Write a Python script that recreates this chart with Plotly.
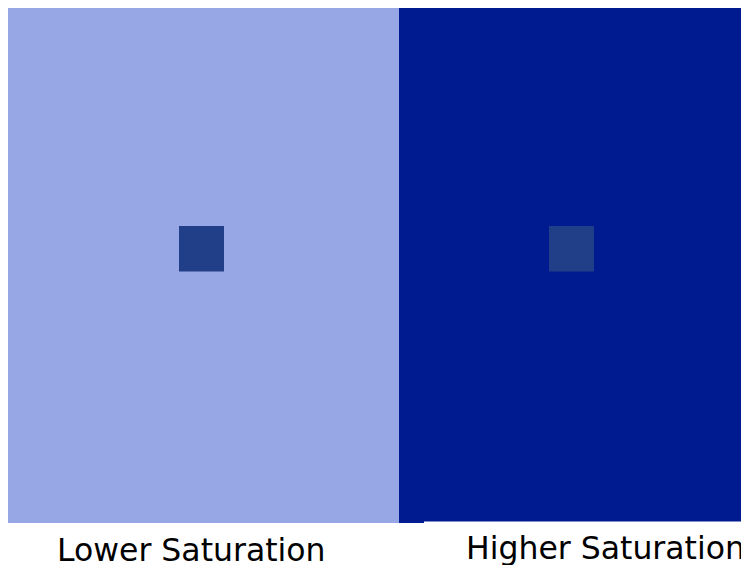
import plotly.graph_objects as go

# Panels (in image units, origin top-left)
panel_names = ["Lower Saturation", "Higher Saturation"]
panel_x0 = [8, 399]
panel_x1 = [399, 744]
panel_y0 = [5, 5]
panel_y1 = [523, 521.5]
panel_colors = ["#97A7E5", "#001A8F"]

# Centre squares (same colour on both panels)
square_x0 = [179, 549]
square_x1 = [224, 594]
square_y0 = [226, 226]
square_y1 = [271.5, 271.5]
square_color = "#213F88"

# Labels
label_x = [191, 605.5]
label_y = [550, 547.5]

W, H = 749, 565
OFF = 8  # page body margin

fig = go.Figure()
shapes = []
for i in range(len(panel_names)):
    shapes.append(dict(type="rect", xref="x", yref="y",
                       x0=panel_x0[i], x1=panel_x1[i], y0=panel_y0[i], y1=panel_y1[i],
                       fillcolor=panel_colors[i], line=dict(width=0), layer="below"))
# small strip of dark panel at bottom-left of right panel
shapes.append(dict(type="rect", xref="x", yref="y",
                   x0=panel_x1[0], x1=424, y0=panel_y0[1], y1=panel_y1[0],
                   fillcolor=panel_colors[1], line=dict(width=0), layer="below"))
for i in range(len(square_x0)):
    shapes.append(dict(type="rect", xref="x", yref="y",
                       x0=square_x0[i], x1=square_x1[i], y0=square_y0[i], y1=square_y1[i],
                       fillcolor=square_color, line=dict(width=0)))

annotations = []
for i, name in enumerate(panel_names):
    annotations.append(dict(x=label_x[i], y=label_y[i], xref="x", yref="y",
                            text=name, showarrow=False,
                            font=dict(family="DejaVu Sans", size=31.5, color="#000000"),
                            xanchor="center", yanchor="middle"))

fig.add_trace(go.Scatter(x=[OFF, W + OFF], y=[OFF, H + OFF], mode="markers",
                         marker=dict(opacity=0), hoverinfo="skip", showlegend=False))

fig.update_layout(
    width=W, height=H,
    margin=dict(l=0, r=0, t=0, b=0),
    paper_bgcolor="white", plot_bgcolor="white",
    shapes=shapes, annotations=annotations,
    xaxis=dict(range=[OFF, W + OFF], visible=False, fixedrange=True),
    yaxis=dict(range=[H + OFF, OFF], visible=False, fixedrange=True),
    showlegend=False,
)

fig.write_html("out.html")
